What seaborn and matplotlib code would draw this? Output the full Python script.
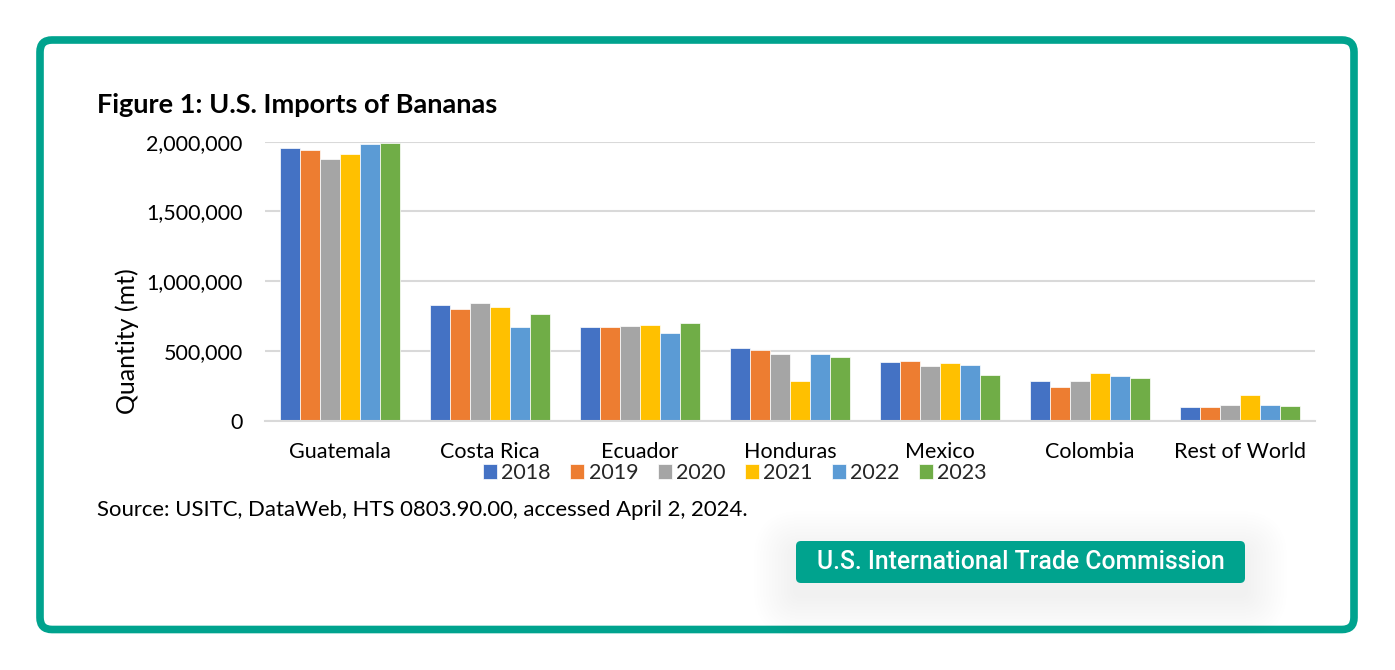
import matplotlib
matplotlib.use('Agg')
import pandas as pd
import seaborn as sns
import matplotlib.pyplot as plt
from matplotlib.patches import FancyBboxPatch
from matplotlib.transforms import IdentityTransform
from matplotlib.ticker import FuncFormatter

countries = ['Guatemala', 'Costa Rica', 'Ecuador', 'Honduras', 'Mexico', 'Colombia', 'Rest of World']
years = ['2018', '2019', '2020', '2021', '2022', '2023']
q2018 = [1955000, 829000, 672000, 524000, 419000, 282000, 96000]
q2019 = [1938000, 798000, 672000, 505000, 426000, 242000, 96000]
q2020 = [1876000, 844000, 677000, 478000, 395000, 285000, 115000]
q2021 = [1912000, 815000, 686000, 287000, 411000, 340000, 182000]
q2022 = [1983000, 674000, 627000, 481000, 402000, 323000, 110000]
q2023 = [1989000, 763000, 698000, 459000, 330000, 304000, 108000]
colors = ['#4472C4', '#ED7D31', '#A5A5A5', '#FFC000', '#5B9BD5', '#70AD47']
teal = '#00A38E'

rows = []
for yr, vals in zip(years, [q2018, q2019, q2020, q2021, q2022, q2023]):
    for c, v in zip(countries, vals):
        rows.append({'country': c, 'year': yr, 'qty': v})
df = pd.DataFrame(rows)

sns.set_style('white')
plt.rcParams['font.family'] = ['Lato', 'DejaVu Sans']

W, H = 1395, 670
fig = plt.figure(figsize=(W / 100, H / 100), dpi=100)
ax = fig.add_axes([265 / W, 1 - 420.7 / H, 1050 / W, 279 / H])

sns.barplot(data=df, x='country', y='qty', hue='year', order=countries, hue_order=years,
            palette=colors, saturation=1, width=0.8, edgecolor='white', linewidth=0.5, ax=ax)

ax.set_ylim(0, 2000000)
ax.set_yticks([0, 500000, 1000000, 1500000, 2000000])
ax.yaxis.set_major_formatter(FuncFormatter(lambda v, p: f'{int(v):,}'))
ax.yaxis.grid(True, color='#d9d9d9', linewidth=1.5)
ax.set_axisbelow(True)
for s in ['top', 'right', 'left']:
    ax.spines[s].set_visible(False)
ax.spines['bottom'].set_color('#d9d9d9')
ax.spines['bottom'].set_linewidth(1.5)
ax.tick_params(axis='y', length=0, labelsize=15.5, labelcolor='black', pad=16)
ax.tick_params(axis='x', length=0, labelsize=15.5, labelcolor='black', pad=15)
ax.set_xlabel('')
ax.set_ylabel('Quantity (mt)', fontsize=18, color='black')
ax.yaxis.set_label_coords(-0.12, 0.285)

handles, labels = ax.get_legend_handles_labels()
ax.get_legend().remove()
fig.legend(handles, labels, loc='center', bbox_to_anchor=(735 / W, 1 - 473 / H), ncol=6,
           frameon=False, fontsize=15.5, handlelength=0.65, handleheight=0.65,
           handletextpad=0.2, columnspacing=0.9)

fig.text(97 / W, 1 - 105 / H, 'Figure 1: U.S. Imports of Bananas', fontsize=19.5,
         fontweight='bold', va='center', ha='left', color='black')
fig.text(97 / W, 1 - 510 / H, 'Source: USITC, DataWeb, HTS 0803.90.00, accessed April 2, 2024.',
         fontsize=15.9, va='center', ha='left', color='black')

# outer frame
fig.add_artist(FancyBboxPatch((40, 40.5), 1314, 589.5, boxstyle='round,pad=0,rounding_size=12',
                              transform=IdentityTransform(), fill=False, edgecolor=teal, lw=5.5))

# badge with soft shadow
bx, by, bw, bh = 796, H - 583, 449, 42
for i in range(14):
    g = 3 * (14 - i)
    fig.add_artist(FancyBboxPatch((bx - g, by - 12 - g), bw + 2 * g, bh + 2 * g,
                                  boxstyle=f'round,pad=0,rounding_size={5 + g}',
                                  transform=IdentityTransform(), fc='black', ec='none', alpha=0.005))
fig.add_artist(FancyBboxPatch((bx, by), bw, bh, boxstyle='round,pad=0,rounding_size=5',
                              transform=IdentityTransform(), fc=teal, ec='none'))
fig.text((bx + bw / 2) / W, (by + bh / 2) / H, 'U.S. International Trade Commission',
         family=['Roboto', 'DejaVu Sans'], fontweight='medium', fontsize=17.8, color='white',
         ha='center', va='center')

fig.savefig('out.png', dpi=100)
